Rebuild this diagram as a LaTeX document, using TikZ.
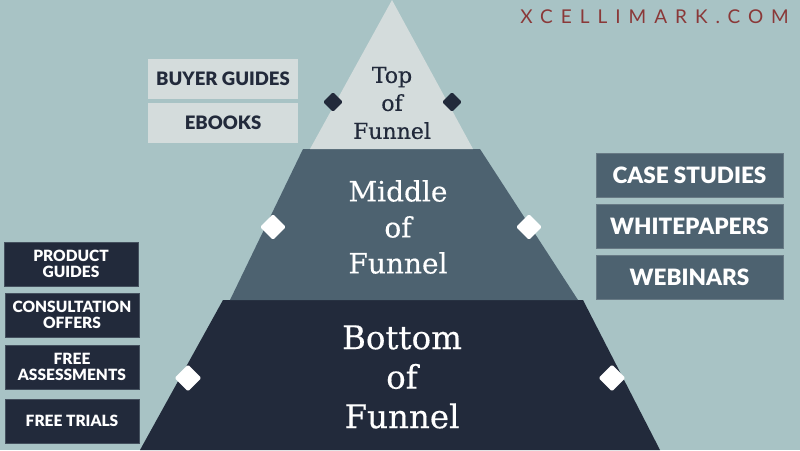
\documentclass[tikz,border=0pt]{standalone}
\usepackage{fontspec}
\setmainfont{DejaVu Serif}[FakeBold=0.4]
\newfontfamily\boxfont{Lato}[BoldFont={Lato Black}]
\newfontfamily\logofont{Lato}[LetterSpace=42]
\usetikzlibrary{shapes.geometric}
\definecolor{bgc}{HTML}{A8C3C5}
\definecolor{topc}{HTML}{D4DCDC}
\definecolor{midc}{HTML}{4D6270}
\definecolor{botc}{HTML}{222A3B}
\definecolor{logoc}{HTML}{8A3838}
\tikzset{
  lvltext/.style={align=center, inner sep=0pt},
  ltbox/.style={fill=topc, text=botc, minimum width=150pt, minimum height=40pt, inner sep=0pt, font=\boxfont\bfseries\fontsize{18.5}{20}\selectfont},
  rtbox/.style={fill=midc, draw=midc!85!white, line width=0.6pt, text=white, minimum width=187pt, minimum height=44pt, inner sep=0pt, font=\boxfont\bfseries\fontsize{22.5}{24}\selectfont},
  lbbox/.style={fill=botc, draw=botc!75!bgc, line width=0.8pt, text=white, minimum width=134pt, minimum height=44pt, inner sep=0pt, align=center, font=\boxfont\bfseries\fontsize{15.5}{16}\selectfont},
  dmark/.style={diamond, inner sep=0pt, rounded corners=1.5pt},
}
\begin{document}
\begin{tikzpicture}[x=1pt,y=-1pt]
\fill[bgc] (0,0) rectangle (800,450);
\useasboundingbox (0,0) rectangle (800,450);
% pyramid
\fill[botc] (223,300) -- (583,300) -- (660,450) -- (140,450) -- cycle;
\fill[midc] (303,149) -- (480,149) -- (578,300) -- (230,300) -- cycle;
\fill[topc] (392,0) -- (473,149) -- (310,149) -- cycle;
% level labels
\node[lvltext, text=botc, font=\fontsize{22}{28}\selectfont] (top) at (392,103) {Top\\of\\Funnel};
\node[lvltext, text=white, font=\fontsize{28}{36}\selectfont] (mid) at (398,227) {Middle\\of\\Funnel};
\node[lvltext, text=white, font=\fontsize{32.5}{39.5}\selectfont] (bot) at (402,377) {Bottom\\of\\Funnel};
% diamonds
\node[dmark, fill=botc, minimum size=20pt] (dtl) at (333,102) {};
\node[dmark, fill=botc, minimum size=20pt] (dtr) at (452,102) {};
\node[dmark, fill=white, minimum size=26pt] (dml) at (273,227) {};
\node[dmark, fill=white, minimum size=26pt] (dmr) at (529,227) {};
\node[dmark, fill=white, minimum size=27pt] (dbl) at (188,378) {};
\node[dmark, fill=white, minimum size=27pt] (dbr) at (612,378) {};
% left top boxes
\node[ltbox] (buyer) at (223,79) {BUYER GUIDES};
\node[ltbox] (ebooks) at (223,123) {EBOOKS};
% right boxes
\node[rtbox] (case) at (689.5,175) {CASE STUDIES};
\node[rtbox] (white) at (689.5,226) {WHITEPAPERS};
\node[rtbox] (webin) at (689.5,277.5) {WEBINARS};
% left bottom boxes
\node[lbbox] (prod) at (71,264) {PRODUCT\\GUIDES};
\node[lbbox] (cons) at (72,315) {CONSULTATION\\OFFERS};
\node[lbbox] (assess) at (72,367) {FREE\\ASSESSMENTS};
\node[lbbox] (trials) at (72,421) {FREE TRIALS};
% logo
\node[text=logoc, font=\logofont\fontsize{19}{20}\selectfont, anchor=east, inner sep=0pt] (logo) at (789,17) {XCELLIMARK.COM};
\end{tikzpicture}
\end{document}
